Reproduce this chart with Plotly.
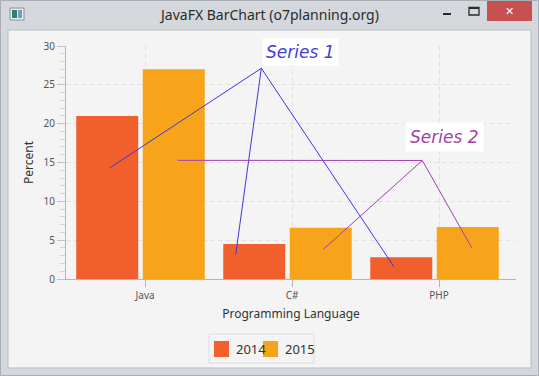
import plotly.graph_objects as go

# ---------------- data ----------------
categories = ["Java", "C#", "PHP"]
series_names = ["2014", "2015"]
values_2014 = [21.0, 4.5, 2.8]
values_2015 = [27.0, 6.6, 6.7]
bar_colors = ["#f15f2c", "#f8a41b"]
y_ticks = [0, 5, 10, 15, 20, 25, 30]

window_title = "JavaFX BarChart (o7planning.org)"
x_title = "Programming Language"
y_title = "Percent"

# hand-drawn callout pointers (data coordinates)
callout1_label = "Series 1"
callout1_x = [-0.207, 0.822, 0.648, None, 0.822, 1.724]
callout1_y = [14.33, 27.13, 3.18, None, 27.13, 1.58]
callout2_label = "Series 2"
callout2_x = [0.255, 1.917, 1.244, None, 1.917, 2.253]
callout2_y = [15.28, 15.26, 3.82, None, 15.26, 4.03]

# ---------------- geometry helpers ----------------
W, H = 539, 376
L, R, T, B = 66, 516, 46, 279  # plot area in pixels


def px(X):
    return (X - L) / (R - L)


def py(Y):
    return (B - Y) / (B - T)


xpos = list(range(len(categories)))

fig = go.Figure()
fig.add_trace(go.Bar(x=xpos, y=values_2014, name=series_names[0],
                     marker=dict(color=bar_colors[0], line=dict(width=0)),
                     showlegend=False))
fig.add_trace(go.Bar(x=xpos, y=values_2015, name=series_names[1],
                     marker=dict(color=bar_colors[1], line=dict(width=0)),
                     showlegend=False))
fig.add_trace(go.Scatter(x=callout1_x, y=callout1_y, mode="lines",
                         line=dict(color="#3a3ad6", width=1),
                         showlegend=False, hoverinfo="skip"))
fig.add_trace(go.Scatter(x=callout2_x, y=callout2_y, mode="lines",
                         line=dict(color="#a23fb0", width=1),
                         showlegend=False, hoverinfo="skip"))

font_main = "Noto Sans, DejaVu Sans, sans-serif"

shapes = []
# window content area
shapes.append(dict(type="rect", xref="paper", yref="paper", layer="below",
                   x0=px(8), x1=px(531), y0=py(368), y1=py(30),
                   fillcolor="#f4f4f4", line=dict(color="#b9bdc2", width=1)))
# outer frame border
shapes.append(dict(type="rect", xref="paper", yref="paper", layer="below",
                   x0=px(0.5), x1=px(538.5), y0=py(375.5), y1=py(0.5),
                   fillcolor="rgba(0,0,0,0)", line=dict(color="#a9aeb4", width=1)))
# close button
shapes.append(dict(type="rect", xref="paper", yref="paper", layer="below",
                   x0=px(487), x1=px(532), y0=py(21), y1=py(1),
                   fillcolor="#c75050", line=dict(width=0)))
# minimize
shapes.append(dict(type="rect", xref="paper", yref="paper", layer="below",
                   x0=px(443), x1=px(451), y0=py(15), y1=py(13),
                   fillcolor="#2a2a2a", line=dict(width=0)))
# maximize
shapes.append(dict(type="rect", xref="paper", yref="paper", layer="below",
                   x0=px(469), x1=px(479), y0=py(15), y1=py(7.5),
                   fillcolor="rgba(0,0,0,0)", line=dict(color="#2a2a2a", width=1.3)))
shapes.append(dict(type="rect", xref="paper", yref="paper", layer="below",
                   x0=px(469), x1=px(479), y0=py(9), y1=py(7),
                   fillcolor="#2a2a2a", line=dict(width=0)))
# window icon
shapes.append(dict(type="rect", xref="paper", yref="paper", layer="below",
                   x0=px(10), x1=px(24), y0=py(20), y1=py(8),
                   fillcolor="#e8ecef", line=dict(color="#8a9096", width=1)))
shapes.append(dict(type="rect", xref="paper", yref="paper", layer="below",
                   x0=px(12), x1=px(17), y0=py(18), y1=py(10),
                   fillcolor="#2f7f7a", line=dict(width=0)))
shapes.append(dict(type="rect", xref="paper", yref="paper", layer="below",
                   x0=px(18), x1=px(22), y0=py(18), y1=py(10),
                   fillcolor="#6f9fc8", line=dict(width=0)))
# custom legend box
shapes.append(dict(type="rect", xref="paper", yref="paper", layer="below",
                   x0=px(209), x1=px(314), y0=py(363), y1=py(334),
                   fillcolor="#f4f4f4", line=dict(color="#dcdcdc", width=1)))
legend_sq_x = [214, 263]
legend_tx_x = [234, 283]
for i in range(len(series_names)):
    shapes.append(dict(type="rect", xref="paper", yref="paper", layer="below",
                       x0=px(legend_sq_x[i]), x1=px(legend_sq_x[i] + 15),
                       y0=py(357), y1=py(341),
                       fillcolor=bar_colors[i], line=dict(width=0)))

annotations = []
annotations.append(dict(text=window_title, xref="paper", yref="paper",
                        x=px(268.5), y=py(15), xanchor="center", yanchor="middle",
                        showarrow=False,
                        font=dict(family=font_main, size=14, color="#2b2b2b")))
annotations.append(dict(text="✕", xref="paper", yref="paper",
                        x=px(509.5), y=py(11), xanchor="center", yanchor="middle",
                        showarrow=False,
                        font=dict(family="DejaVu Sans", size=11, color="#ffffff")))
for i in range(len(series_names)):
    annotations.append(dict(text=series_names[i], xref="paper", yref="paper",
                            x=px(legend_tx_x[i]), y=py(349), xanchor="left",
                            yanchor="middle", showarrow=False,
                            font=dict(family=font_main, size=13, color="#333333")))
annotations.append(dict(text=callout1_label, xref="paper", yref="paper",
                        x=px(300), y=py(52), xanchor="center", yanchor="middle",
                        showarrow=False, bgcolor="#ffffff", borderpad=3,
                        font=dict(family="DejaVu Sans", size=17, color="#4141d8",
                                  style="italic")))
annotations.append(dict(text=callout2_label, xref="paper", yref="paper",
                        x=px(444), y=py(137), xanchor="center", yanchor="middle",
                        showarrow=False, bgcolor="#ffffff", borderpad=4,
                        font=dict(family="DejaVu Sans", size=17, color="#a23fa8",
                                  style="italic")))

fig.update_layout(
    width=W, height=H,
    margin=dict(l=L, r=W - R, t=T, b=H - B, pad=0),
    paper_bgcolor="#d4d8dc",
    plot_bgcolor="#f4f4f4",
    barmode="group",
    bargap=0.095,
    bargroupgap=0.068,
    showlegend=False,
    shapes=shapes,
    annotations=annotations,
    font=dict(family=font_main, color="#333333"),
)

fig.update_xaxes(
    range=[(L - 140.5) / 147, (R - 140.5) / 147],
    tickmode="array",
    tickvals=[i + 0.031 for i in xpos],
    ticktext=categories,
    ticks="outside", ticklen=7, tickcolor="#b5b5b5", tickwidth=1,
    showline=True, linecolor="#b5b5b5", linewidth=1,
    showgrid=True, gridcolor="#e2e2e2", griddash="5px,3px", gridwidth=1,
    zeroline=False,
    tickfont=dict(family=font_main, size=10, color="#555555"),
    title=dict(text=x_title, standoff=8,
               font=dict(family=font_main, size=12, color="#333333")),
    fixedrange=True,
)
fig.update_yaxes(
    range=[0, 30],
    tickmode="array", tickvals=y_ticks,
    ticks="outside", ticklen=8, tickcolor="#c4c4c4", tickwidth=1,
    minor=dict(dtick=1, ticks="outside", ticklen=5, tickcolor="#d4d4d4",
               showgrid=False),
    showline=True, linecolor="#b5b5b5", linewidth=1,
    showgrid=True, gridcolor="#e2e2e2", griddash="5px,3px", gridwidth=1,
    zeroline=False,
    tickfont=dict(family=font_main, size=10, color="#555555"),
    title=dict(text=y_title, standoff=7,
               font=dict(family=font_main, size=12, color="#333333")),
    fixedrange=True,
)

fig.write_html("out.html",
               config={"displayModeBar": False},
               post_script="document.body.style.margin='0px';"
                           "document.body.style.overflow='hidden';")
